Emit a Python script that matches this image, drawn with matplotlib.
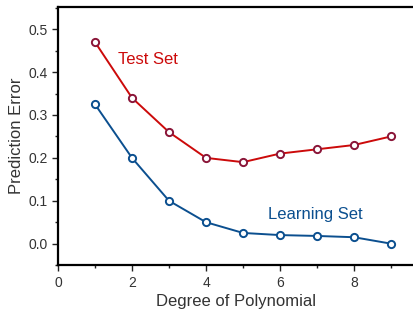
import matplotlib
matplotlib.use("Agg")
import matplotlib.pyplot as plt
from matplotlib.ticker import MultipleLocator

degree = [1, 2, 3, 4, 5, 6, 7, 8, 9]
test_err = [0.47, 0.34, 0.26, 0.20, 0.19, 0.21, 0.22, 0.23, 0.25]
learn_err = [0.325, 0.20, 0.10, 0.05, 0.025, 0.02, 0.018, 0.015, 0.0]

red = "#cc0a0a"
maroon = "#8a1538"
blue = "#0b4f8f"

plt.rcParams['font.family'] = ['Liberation Sans', 'DejaVu Sans']
fig = plt.figure(figsize=(4.14, 3.13), dpi=100)
ax = fig.add_axes([0.140, 0.153, 0.86, 0.825])

ax.plot(degree, test_err, color=red, lw=1.4, marker='o', ms=5.2,
        mfc='white', mec=maroon, mew=1.4, zorder=3)
ax.plot(degree, learn_err, color=blue, lw=1.4, marker='o', ms=5.2,
        mfc='white', mec=blue, mew=1.4, zorder=3)

ax.text(1.62, 0.43, "Test Set", color=red, fontsize=12, va='center', ha='left')
ax.text(5.68, 0.067, "Learning Set", color=blue, fontsize=12, va='center', ha='left')

ax.set_xlim(0, 9.62)
ax.set_ylim(-0.05, 0.552)
ax.xaxis.set_major_locator(MultipleLocator(2))
ax.xaxis.set_minor_locator(MultipleLocator(1))
ax.yaxis.set_major_locator(MultipleLocator(0.1))
ax.yaxis.set_minor_locator(MultipleLocator(0.05))
ax.set_yticks([0.0, 0.1, 0.2, 0.3, 0.4, 0.5])
ax.set_yticklabels(["0.0", "0.1", "0.2", "0.3", "0.4", "0.5"])
ax.set_xticks([0, 2, 4, 6, 8])

ax.spines['right'].set_visible(False)
for s in ['left', 'top', 'bottom']:
    ax.spines[s].set_linewidth(1.6)
ax.tick_params(which='major', direction='out', length=4, width=1, colors='#222222',
               labelsize=10, labelcolor='#333333')
ax.tick_params(which='minor', direction='out', length=2.5, width=1, colors='#222222')

ax.set_xlabel("Degree of Polynomial", fontsize=12, color='#333333', labelpad=3)
ax.set_ylabel("Prediction Error", fontsize=12, color='#333333', labelpad=3)

fig.savefig("out.png", dpi=100)
